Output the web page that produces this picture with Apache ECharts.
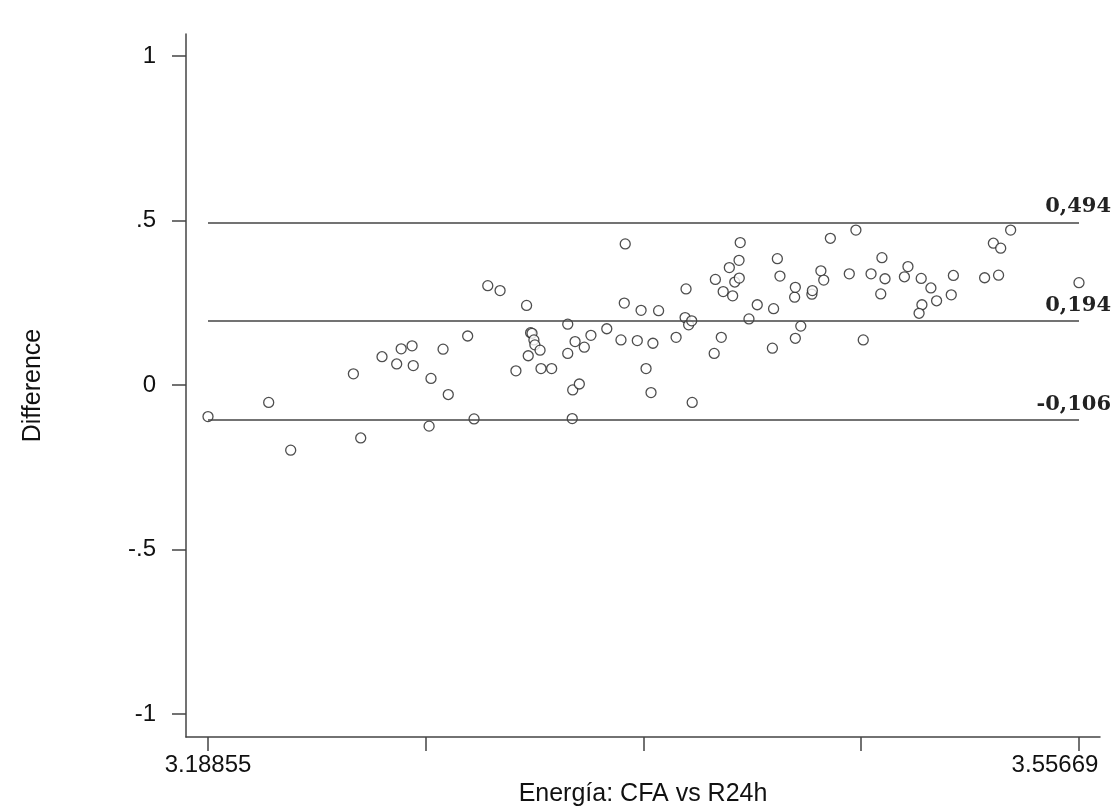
<!DOCTYPE html>
<html>
<head>
<meta charset="utf-8">
<title>Bland-Altman: Energía CFA vs R24h</title>
<script src="https://cdn.jsdelivr.net/npm/echarts@6/dist/echarts.min.js"></script>
<style>
  html, body { margin: 0; padding: 0; background: #fff; }
  #chart { width: 1115px; height: 808px; }
</style>
</head>
<body>
<div id="chart"></div>
<script>
// mean of the two methods (x) and their difference (y)
const meanValues = [
  3.18855, 3.2142, 3.2235, 3.2500, 3.2531, 3.2621, 3.2683, 3.2702, 3.2748, 3.2753,
  3.2828, 3.2820, 3.2879, 3.2901, 3.2983, 3.3010, 3.3068, 3.3120, 3.3187, 3.3232,
  3.3249, 3.3255, 3.3263, 3.3267, 3.3289, 3.3239, 3.3293, 3.3338, 3.3406, 3.3406,
  3.3437, 3.3427, 3.3455, 3.3425, 3.3476, 3.3504, 3.3571, 3.3631, 3.3645, 3.3649,
  3.3700, 3.3716, 3.3737, 3.3758, 3.3766, 3.3790, 3.3864, 3.3902, 3.3906, 3.3917,
  3.3930, 3.3932, 3.4025, 3.4030, 3.4055, 3.4063, 3.4089, 3.4103, 3.4112, 3.4131,
  3.4130, 3.4135, 3.4172, 3.4207, 3.4271, 3.4276, 3.4292, 3.4303, 3.4365, 3.4368,
  3.4368, 3.4391, 3.4438, 3.4440, 3.4476, 3.4488, 3.4516, 3.4596, 3.4624, 3.4655,
  3.4688, 3.4734, 3.4747, 3.4729, 3.4829, 3.4844, 3.4900, 3.4903, 3.4891, 3.4941,
  3.4965, 3.5027, 3.5036, 3.5168, 3.5205, 3.5227, 3.5236, 3.5278, 3.55669
];
const diffValues = [
  -0.096, -0.053, -0.198, 0.034, -0.161, 0.086, 0.064, 0.110, 0.119, 0.059,
  0.020, -0.125, 0.109, -0.029, 0.149, -0.103, 0.302, 0.287, 0.043, 0.242,
  0.159, 0.157, 0.137, 0.122, 0.106, 0.089, 0.050, 0.050, 0.185, 0.096,
  0.132, -0.015, 0.003, -0.102, 0.115, 0.151, 0.171, 0.137, 0.249, 0.429,
  0.135, 0.227, 0.050, -0.023, 0.127, 0.226, 0.145, 0.205, 0.292, 0.183,
  0.195, -0.053, 0.096, 0.321, 0.145, 0.284, 0.357, 0.271, 0.313, 0.325,
  0.379, 0.433, 0.201, 0.244, 0.112, 0.232, 0.384, 0.331, 0.267, 0.297,
  0.142, 0.179, 0.276, 0.287, 0.347, 0.319, 0.446, 0.338, 0.471, 0.137,
  0.338, 0.387, 0.323, 0.277, 0.329, 0.360, 0.324, 0.244, 0.218, 0.295,
  0.256, 0.274, 0.333, 0.326, 0.431, 0.334, 0.416, 0.471, 0.311
];

// mean difference and limits of agreement
const limitValues = [0.494, 0.194, -0.106];
const limitLabels = ['0,494', '0,194', '-0,106'];

const xTicks = [3.18855, 3.280585, 3.37262, 3.464655, 3.55669];
const xTickLabels = [3.18855, 3.55669];
const yTicks = [-1, -0.5, 0, 0.5, 1];
const yTickLabels = { '-1': '-1', '-0.5': '-.5', '0': '0', '0.5': '.5', '1': '1' };

const chart = echarts.init(document.getElementById('chart'));

const axisColor = '#444';
const sans = 'Liberation Sans, Arial, sans-serif';
const points = meanValues.map((x, i) => [x, diffValues[i]]);
const xFrom = xTicks[0];
const xTo = xTicks[xTicks.length - 1];

const option = {
  backgroundColor: '#fff',
  animation: false,
  // fixed plot box, no auto shrinking for labels
  grid: { left: 186, right: 15, top: 34, bottom: 71, outerBoundsMode: 'none', containLabel: false },
  xAxis: {
    type: 'value',
    min: 3.17925,
    max: 3.56557,
    name: 'Energía: CFA vs R24h',
    nameLocation: 'middle',
    nameGap: 40,
    nameTextStyle: { fontFamily: sans, fontSize: 25, color: '#111' },
    splitLine: { show: false },
    axisLine: { show: true, onZero: false, lineStyle: { color: axisColor, width: 1.5 } },
    axisTick: { show: true, length: 14, customValues: xTicks, lineStyle: { color: axisColor, width: 1.5 } },
    axisLabel: {
      customValues: xTickLabels,
      margin: 16,
      fontFamily: sans,
      fontSize: 24,
      color: '#111',
      formatter: v => v === xTo ? '{r|' + v.toFixed(5) + '}' : v.toFixed(5),
      rich: {
        // the last label sits pulled back inside the axis end
        r: { fontFamily: sans, fontSize: 24, color: '#111', padding: [0, 48, 0, 0] }
      }
    }
  },
  yAxis: {
    type: 'value',
    min: -1.07,
    max: 1.067,
    name: 'Difference',
    nameLocation: 'middle',
    nameRotate: 90,
    nameGap: 140,
    nameTextStyle: { fontFamily: sans, fontSize: 25, color: '#111' },
    splitLine: { show: false },
    axisLine: { show: true, onZero: false, lineStyle: { color: axisColor, width: 1.5 } },
    axisTick: { show: true, length: 14, customValues: yTicks, lineStyle: { color: axisColor, width: 1.5 } },
    axisLabel: {
      customValues: yTicks,
      margin: 30,
      fontFamily: sans,
      fontSize: 24,
      color: '#111',
      formatter: v => yTickLabels[String(v)]
    }
  },
  series: [{
    type: 'scatter',
    data: points,
    symbol: 'circle',
    symbolSize: 10,
    itemStyle: { color: '#fff', borderColor: '#222', borderWidth: 1.3 },
    markLine: {
      silent: true,
      symbol: ['none', 'none'],
      lineStyle: { color: '#444', width: 1.6, type: 'solid' },
      label: {
        show: true,
        position: 'insideEndTop',
        offset: [37, 0],
        fontFamily: 'DejaVu Serif, Liberation Serif, serif',
        fontWeight: 'bold',
        fontSize: 21,
        color: '#222'
      },
      data: limitValues.map((v, i) => [
        { coord: [xFrom, v], label: { formatter: limitLabels[i] } },
        { coord: [xTo, v] }
      ])
    }
  }]
};

chart.setOption(option);

window.addEventListener('resize', () => chart.resize());
</script>
</body>
</html>
